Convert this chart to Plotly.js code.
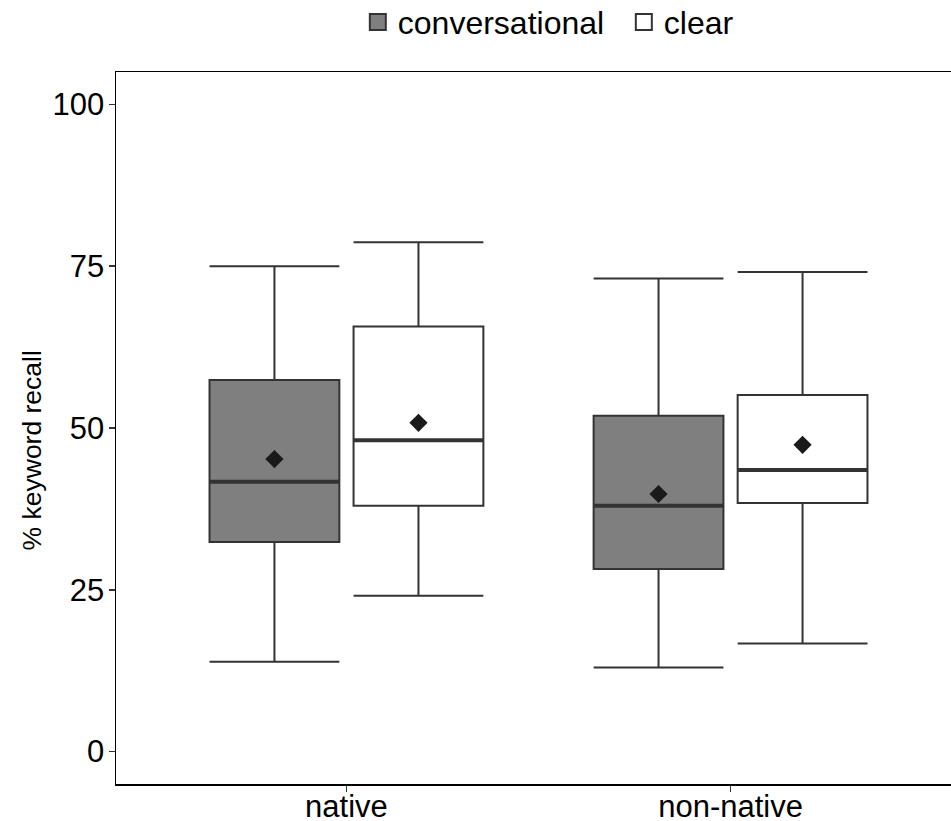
<!DOCTYPE html>
<html>
<head>
<meta charset="utf-8">
<script src="https://cdn.plot.ly/plotly-3.0.1.min.js"></script>
<style>
html, body { margin: 0; padding: 0; overflow: hidden; background: #fff; }
#chart { width: 975px; height: 821px; }
</style>
</head>
<body>
<div id="chart"></div>
<script>
// Data
const categories = ["native", "non-native"];
const seriesNames = ["conversational", "clear"];

const convLower  = [13.9, 13.0];
const convQ1     = [32.4, 28.2];
const convMedian = [41.7, 38.0];
const convQ3     = [57.4, 51.9];
const convUpper  = [75.0, 73.1];
const convMean   = [45.2, 39.8];

const clearLower  = [24.1, 16.7];
const clearQ1     = [38.0, 38.4];
const clearMedian = [48.1, 43.5];
const clearQ3     = [65.7, 55.1];
const clearUpper  = [78.7, 74.1];
const clearMean   = [50.8, 47.4];

const yTicks = [0, 25, 50, 75, 100];
const yTitle = "% keyword recall";

// Layout helpers (positions in data units of a numeric x axis)
const catPos = categories.map((c, i) => i + 1);
const dodge = 0.1875;
const boxW = 0.338;
const lineCol = "#333333";

const series = [
  {name: seriesNames[0], fill: "#7f7f7f", off: -dodge,
   lo: convLower, q1: convQ1, med: convMedian, q3: convQ3, hi: convUpper, mean: convMean},
  {name: seriesNames[1], fill: "#ffffff", off: dodge,
   lo: clearLower, q1: clearQ1, med: clearMedian, q3: clearQ3, hi: clearUpper, mean: clearMean}
];

const traces = [];
series.forEach(s => {
  const xs = catPos.map(p => p + s.off);
  traces.push({
    type: "box",
    name: s.name,
    x: xs,
    q1: s.q1, median: s.med, q3: s.q3,
    lowerfence: s.lo, upperfence: s.hi,
    width: boxW,
    whiskerwidth: 1,
    boxpoints: false,
    fillcolor: s.fill,
    line: {color: lineCol, width: 2},
    hoverinfo: "skip",
    showlegend: false
  });
});
series.forEach(s => {
  const xs = catPos.map(p => p + s.off);
  const mx = [], my = [];
  xs.forEach((x, i) => {
    mx.push(x - boxW / 2, x + boxW / 2, null);
    my.push(s.med[i], s.med[i], null);
  });
  traces.push({
    type: "scatter", mode: "lines", x: mx, y: my,
    line: {color: lineCol, width: 4},
    showlegend: false, hoverinfo: "skip"
  });
  traces.push({
    type: "scatter", mode: "markers", x: xs, y: s.mean,
    marker: {symbol: "diamond", size: 14, color: "#1a1a1a"},
    showlegend: false, hoverinfo: "skip"
  });
});
// legend keys
series.forEach(s => {
  traces.push({
    type: "scatter", mode: "markers", name: s.name,
    x: [null], y: [null],
    marker: {symbol: "square", size: 18, color: s.fill, line: {color: lineCol, width: 2}},
    showlegend: true, hoverinfo: "skip"
  });
});

const layout = {
  width: 975,
  height: 821,
  autosize: false,
  margin: {l: 116, r: 14, t: 72, b: 37},
  paper_bgcolor: "#ffffff",
  plot_bgcolor: "#ffffff",
  font: {family: "Liberation Sans, Arial, sans-serif", color: "#000000", size: 31},
  boxmode: "overlay",
  showlegend: true,
  legend: {
    orientation: "h",
    xref: "container", yref: "container",
    x: 0.367, xanchor: "left",
    y: 0.973, yanchor: "middle",
    font: {size: 32, color: "#000000"},
    traceorder: "normal",
    itemclick: false,
    itemwidth: 30,
    entrywidth: 221,
    entrywidthmode: "pixels"
  },
  annotations: [{
    text: yTitle,
    xref: "paper", yref: "paper",
    x: -0.099, y: 0.469,
    xanchor: "center", yanchor: "middle",
    textangle: -90,
    showarrow: false,
    font: {size: 26.5, color: "#000000"}
  }],
  xaxis: {
    range: [0.4, 2.6],
    tickmode: "array",
    tickvals: catPos,
    ticktext: categories,
    showgrid: false,
    zeroline: false,
    showline: true,
    linecolor: "#000000",
    linewidth: 1.5,
    mirror: true,
    ticks: "outside",
    ticklen: 6,
    tickwidth: 1.5,
    tickcolor: lineCol,
    ticklabelstandoff: -12,
    automargin: false,
    tickfont: {size: 31, color: "#000000"}
  },
  yaxis: {
    range: [-5, 105],
    tickmode: "array",
    tickvals: yTicks,
    ticktext: yTicks.map(String),
    showgrid: false,
    zeroline: false,
    showline: true,
    linecolor: "#000000",
    linewidth: 1.5,
    mirror: true,
    ticks: "outside",
    ticklen: 6,
    tickwidth: 1.5,
    tickcolor: lineCol,
    ticklabelstandoff: -2,
    automargin: false,
    tickfont: {size: 31, color: "#000000"}
  }
};

Plotly.newPlot("chart", traces, layout, {staticPlot: true, displayModeBar: false});
</script>
</body>
</html>
